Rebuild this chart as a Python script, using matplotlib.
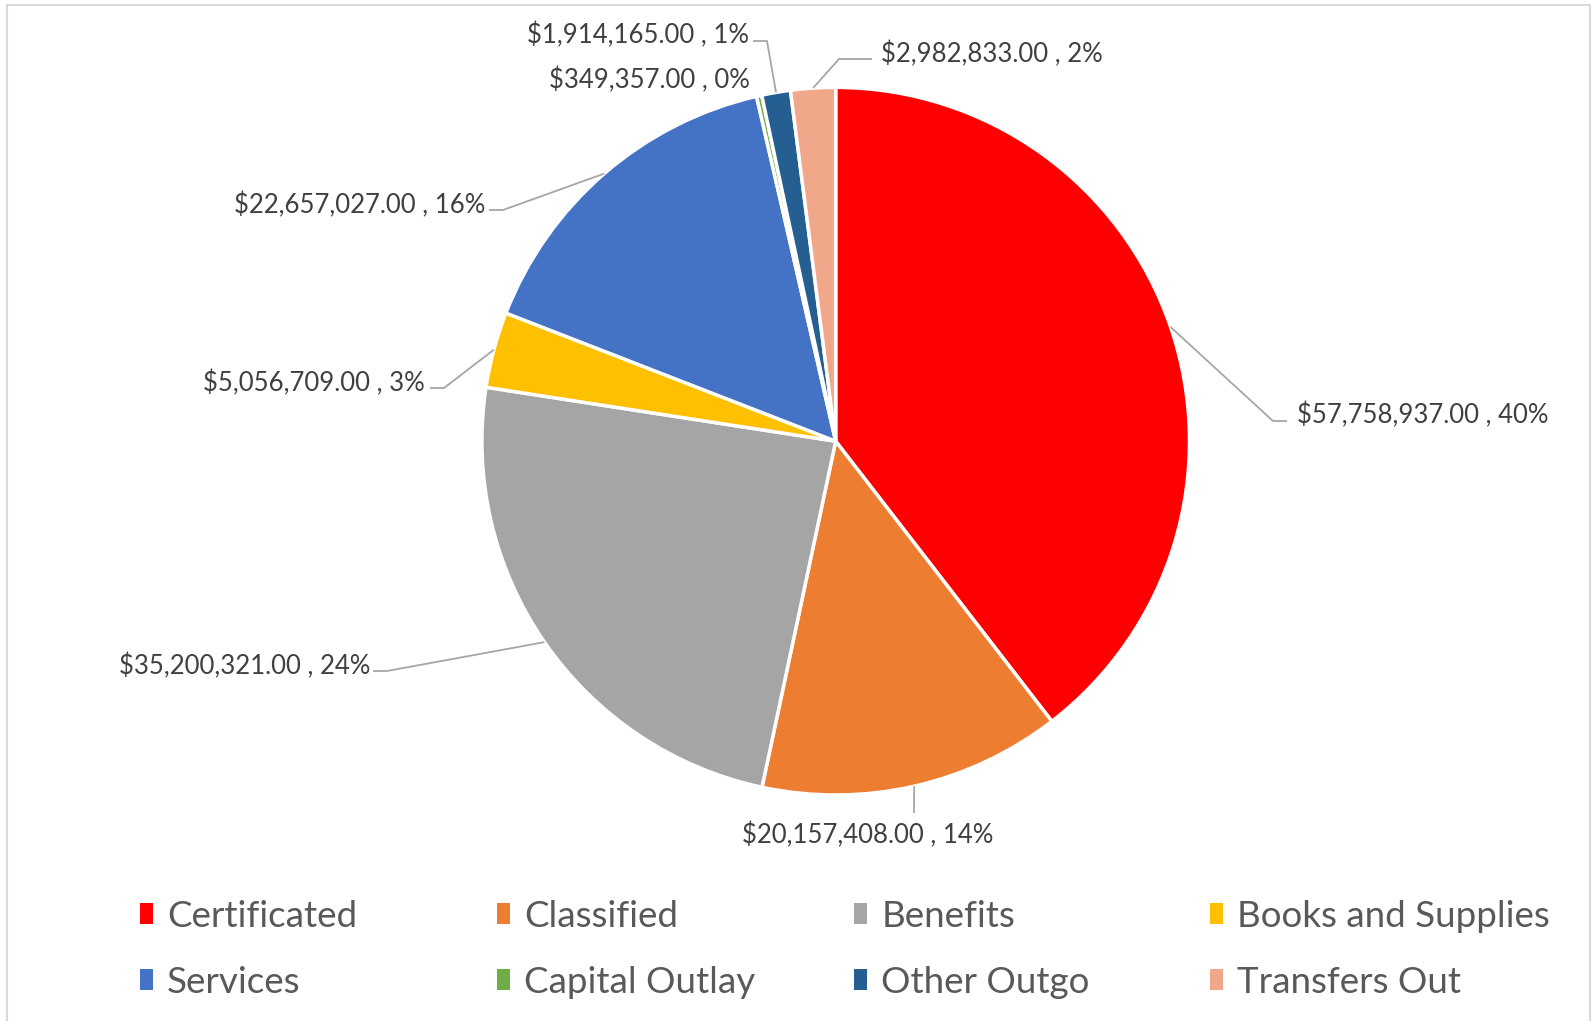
import numpy as np
import matplotlib as mpl
from matplotlib import pyplot as plt
from matplotlib.patches import Patch, Rectangle

# data
categories = ["Certificated", "Classified", "Benefits", "Books and Supplies",
              "Services", "Capital Outlay", "Other Outgo", "Transfers Out"]
amounts = [57758937.00, 20157408.00, 35200321.00, 5056709.00,
           22657027.00, 349357.00, 1914165.00, 2982833.00]
colors = ["#FF0000", "#ED7D31", "#A5A5A5", "#FFC000",
          "#4472C4", "#70AD47", "#255E91", "#F1A78A"]

# figure is laid out in pixel units (origin top-left for the layout numbers)
W, H = 1594, 1021
CX, CY, R = 835.7, 441.2, 353.8

# label layout: (elbow, line end, text anchor, ha) in pixels from top-left
label_layout = [
    ((1273, 421), (1287, 421), (1297, 415), "left"),
    (None, (914, 813), (868, 835), "center"),
    ((387, 671), (373, 671), (370, 666), "right"),
    ((444, 388), (430, 388), (425, 383), "right"),
    ((503, 210), (489, 210), (485, 205), "right"),
    (None, None, (750, 80), "right"),
    ((767, 41), (753, 41), (749, 35), "right"),
    ((839, 59), (872, 59), (881, 54), "left"),
]
legend_pos = [(140, 916), (497, 916), (854, 916), (1210, 916),
              (140, 982), (497, 982), (854, 982), (1210, 982)]

plt.rcParams["font.family"] = ["Lato", "DejaVu Sans"]
TXT = "#404040"
LINE = "#A6A6A6"


def flip(p):
    return (p[0], H - p[1])


fig = plt.figure(figsize=(W / 100, H / 100), dpi=100)
ax = fig.add_axes([0, 0, 1, 1])

wedges, _ = ax.pie(amounts, colors=colors, startangle=90, counterclock=False,
                   center=(CX, H - CY), radius=R,
                   wedgeprops=dict(edgecolor="white", linewidth=2.5))
ax.set_xlim(0, W)
ax.set_ylim(0, H)
ax.set_aspect("auto")
ax.axis("off")

total = sum(amounts)
for w, amt, lay in zip(wedges, amounts, label_layout):
    elbow, end, txt, ha = lay
    mid = np.deg2rad((w.theta1 + w.theta2) / 2)
    start = (CX + R * np.cos(mid), H - CY + R * np.sin(mid))
    if end is not None:
        pts = [start] + ([flip(elbow)] if elbow else []) + [flip(end)]
        xs, ys = zip(*pts)
        ax.plot(xs, ys, color=LINE, lw=1.3, solid_capstyle="butt")
    pct = amt / total * 100
    label = "${:,.2f} , {:.0f}%".format(amt, pct)
    tx, ty = flip(txt)
    ax.text(tx, ty, label, ha=ha, va="center", fontsize=18.5, color=TXT)

# legend, one entry per slot so the columns line up like the original
for name, c, (lx, ly) in zip(categories, colors, legend_pos):
    fig.legend([Patch(facecolor=c, edgecolor="none")], [name],
               loc="center left", bbox_to_anchor=(lx / W, 1 - ly / H),
               frameon=False, borderpad=0, borderaxespad=0,
               handlelength=0.36, handleheight=0.5, handletextpad=0.38,
               fontsize=26.5, labelcolor="#595959")

fig.add_artist(Rectangle((7 / W, -0.02), (1590 - 7) / W, (H - 5) / H + 0.02,
                         transform=fig.transFigure, fill=False,
                         edgecolor="#D9D9D9", lw=1.5))

fig.savefig("out.png", dpi=100)
